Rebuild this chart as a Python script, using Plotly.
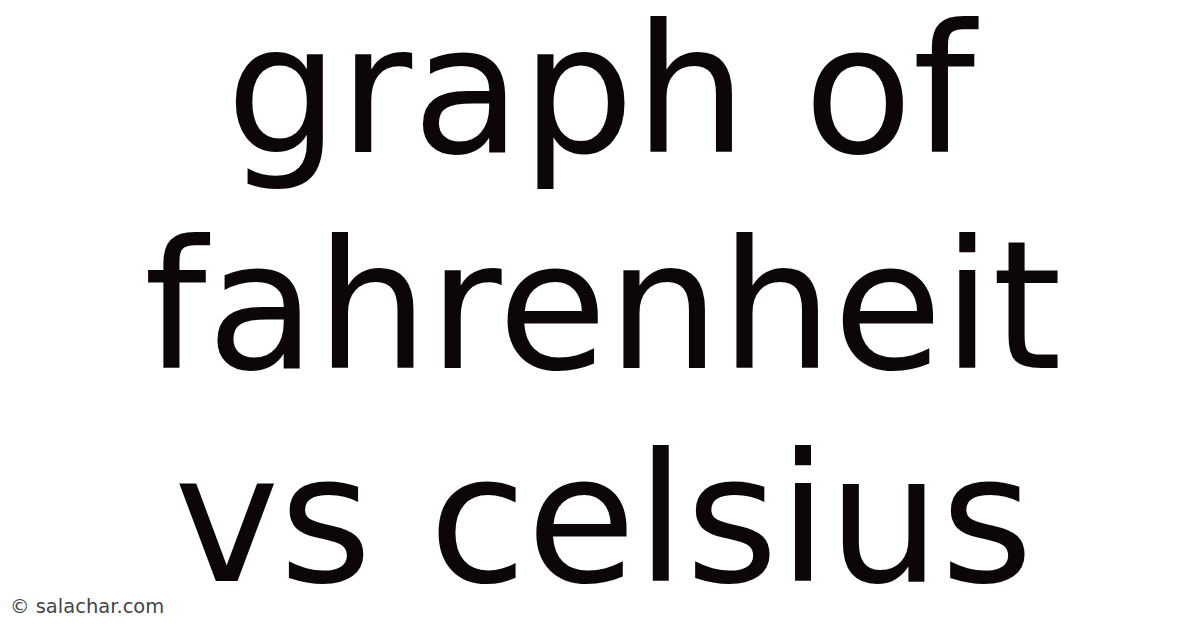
import plotly.graph_objects as go

lines = ["graph of", "fahrenheit", "vs celsius"]
line_y = [0.868, 0.525, 0.185]  # paper positions of line centres
watermark = "© salachar.com"

fig = go.Figure()
for txt, yy in zip(lines, line_y):
    fig.add_annotation(
        text=txt, x=0.4962, y=yy, xref="paper", yref="paper",
        xanchor="center", yanchor="middle", showarrow=False,
        font=dict(family="DejaVu Sans", size=178, color="#0d0606"),
    )
fig.add_annotation(
    text=watermark, x=0, y=1 - 598 / 628, xref="paper", yref="paper",
    showarrow=False,
    font=dict(family="DejaVu Sans", size=19.5, color="#444444"),
    xanchor="left", yanchor="middle",
)

fig.update_layout(
    width=1200, height=628,
    margin=dict(l=0, r=0, t=0, b=0),
    paper_bgcolor="white", plot_bgcolor="white",
    xaxis=dict(visible=False), yaxis=dict(visible=False),
    showlegend=False,
)
fig.write_html("out.html")
